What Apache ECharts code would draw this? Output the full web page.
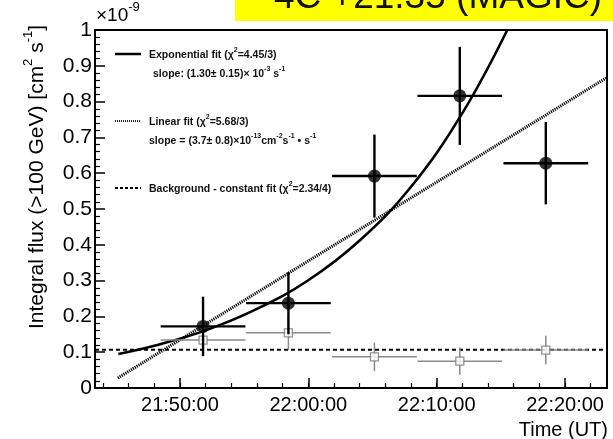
<!DOCTYPE html>
<html>
<head>
<meta charset="utf-8">
<script src="https://cdn.jsdelivr.net/npm/echarts@6/dist/echarts.min.js"></script>
<style>
  html, body { margin: 0; padding: 0; background: #fff; }
  #chart { width: 613px; height: 439px; }
</style>
</head>
<body>
<div id="chart"></div>
<script>
// time labels on the x axis
const timeTicks = ['21:50:00', '22:00:00', '22:10:00', '22:20:00'];

// MAGIC light curve, flux in units of 1e-9 cm^-2 s^-1
const binCentres = ['21:51:48', '21:58:27', '22:05:09', '22:11:48', '22:18:30'];
const binHalfSec = [198, 198, 198, 198, 198];
const flux = [0.172, 0.237, 0.592, 0.816, 0.628];
const fluxErr = [0.083, 0.087, 0.116, 0.137, 0.115];

// background (open squares)
const bgFlux = [0.134, 0.154, 0.087, 0.075, 0.106];
const bgErr = [0.04, 0.048, 0.04, 0.038, 0.04];
const bgLevel = 0.107;

// fitted curves
const expTime = ['21:45:12', '21:48:00', '21:52:00', '21:56:00', '22:00:00', '22:04:00', '22:08:00', '22:12:00', '22:15:30'];
const expFlux = [0.095, 0.118, 0.161, 0.221, 0.301, 0.412, 0.562, 0.768, 1.0];
const linTime = ['21:45:10', '22:23:12'];
const linFlux = [0.028, 0.866];

// minutes after 21:00
function toMin(s) {
  const p = s.split(':').map(Number);
  return (p[0] - 21) * 60 + p[1] + p[2] / 60;
}
function fmt(v) {
  const tot = Math.round(v * 60);
  const h = 21 + Math.floor(tot / 3600);
  const m = Math.floor((tot % 3600) / 60);
  const s = tot % 60;
  return h + ':' + String(m).padStart(2, '0') + ':' + String(s).padStart(2, '0');
}

const xMin = toMin('21:43:23');
const xMax = toMin('22:23:16');
const majorX = timeTicks.map(toMin);
const minorX = [];
for (let m = 44; m <= 83; m += 2) minorX.push(m);

const black = binCentres.map((t, i) => [toMin(t), flux[i], binHalfSec[i] / 60, fluxErr[i]]);
const grey = binCentres.map((t, i) => [toMin(t), bgFlux[i], binHalfSec[i] / 60, bgErr[i]]);

function errBars(color, width) {
  return function (params, api) {
    const x = api.value(0), y = api.value(1), dx = api.value(2), dy = api.value(3);
    const l = api.coord([x - dx, y]);
    const r = api.coord([x + dx, y]);
    const t = api.coord([x, y + dy]);
    const b = api.coord([x, y - dy]);
    const st = { stroke: color, lineWidth: width };
    return {
      type: 'group',
      children: [
        { type: 'line', shape: { x1: l[0], y1: l[1], x2: r[0], y2: r[1] }, style: st },
        { type: 'line', shape: { x1: t[0], y1: t[1], x2: b[0], y2: b[1] }, style: st }
      ]
    };
  };
}

const supRich = {
  n: { fontFamily: 'Liberation Sans', fontWeight: 'bold', fontSize: 10.5, lineHeight: 14, verticalAlign: 'bottom', fill: '#111' },
  s: { fontFamily: 'Liberation Sans', fontWeight: 'bold', fontSize: 7, verticalAlign: 'top', fill: '#111' }
};

const chart = echarts.init(document.getElementById('chart'));
chart.setOption({
  animation: false,
  grid: { left: 95, right: 6, top: 30, bottom: 51, show: true, borderColor: '#000', borderWidth: 2, backgroundColor: 'transparent' },
  xAxis: [
    {
      type: 'value', min: xMin, max: xMax,
      axisLine: { lineStyle: { color: '#000', width: 2 } },
      axisTick: { inside: true, length: 10, customValues: majorX, lineStyle: { color: '#000', width: 1.5 } },
      axisLabel: {
        customValues: majorX, formatter: fmt, margin: 7,
        fontFamily: 'Liberation Sans', fontSize: 20, color: '#000'
      },
      splitLine: { show: false }
    },
    {
      type: 'value', min: xMin, max: xMax, position: 'bottom',
      axisLine: { show: false },
      axisTick: { inside: true, length: 5, customValues: minorX, lineStyle: { color: '#000', width: 1.2 } },
      axisLabel: { show: false },
      splitLine: { show: false }
    }
  ],
  yAxis: {
    type: 'value', min: 0, max: 1, interval: 0.1,
    axisLine: { show: true, lineStyle: { color: '#000', width: 2 } },
    axisTick: { show: true, inside: true, length: 10, lineStyle: { color: '#000', width: 1.5 } },
    minorTick: { show: true, splitNumber: 5, length: 5, lineStyle: { color: '#000', width: 1.2 } },
    axisLabel: { margin: 3, fontFamily: 'Liberation Sans', fontSize: 21, color: '#000' },
    splitLine: { show: false }
  },
  series: [
    {
      type: 'line', data: [[xMin, bgLevel], [xMax, bgLevel]], symbol: 'none',
      lineStyle: { color: '#000', width: 2, type: [4, 3] }, z: 2
    },
    {
      type: 'line', data: linTime.map((t, i) => [toMin(t), linFlux[i]]), symbol: 'none',
      lineStyle: { color: '#000', width: 3, type: [1.2, 1] }, z: 2
    },
    {
      type: 'line', data: expTime.map((t, i) => [toMin(t), expFlux[i]]), symbol: 'none', smooth: 0.4,
      lineStyle: { color: '#000', width: 2.6 }, z: 3
    },
    {
      type: 'custom', data: grey, renderItem: errBars('#8a8a8a', 1.5), z: 4
    },
    {
      type: 'scatter', data: grey.map(d => [d[0], d[1]]), symbol: 'rect', symbolSize: 8,
      itemStyle: { color: '#fff', borderColor: '#777', borderWidth: 1.3 }, z: 5
    },
    {
      type: 'custom', data: black, renderItem: errBars('#000', 2.4), z: 6
    },
    {
      type: 'scatter', data: black.map(d => [d[0], d[1]]), symbol: 'circle', symbolSize: 13,
      itemStyle: { color: '#000' }, z: 7
    }
  ],
  graphic: [
    { type: 'rect', shape: { x: 235, y: 0, width: 378, height: 21 }, style: { fill: '#ffff00' }, z: 10 },
    {
      type: 'text', x: 274, y: -2, z: 11,
      style: { text: '4C +21.35 (MAGIC)', fontFamily: 'Liberation Sans', fontSize: 37, fill: '#111', verticalAlign: 'middle' }
    },
    {
      type: 'text', x: 96, y: 1, z: 11,
      style: {
        text: '{a|×10}{b|-9}',
        rich: {
          a: { fontFamily: 'Liberation Sans', fontSize: 19, lineHeight: 24, verticalAlign: 'bottom', fill: '#000' },
          b: { fontFamily: 'Liberation Sans', fontSize: 13, verticalAlign: 'top', fill: '#000' }
        }
      }
    },
    {
      type: 'text', x: 35, y: 177, rotation: Math.PI / 2, z: 11,
      style: {
        text: '{a|Integral flux (>100 GeV) [cm}{b|2}{a| s}{b|-1}{a|]}',
        align: 'center', verticalAlign: 'middle',
        rich: {
          a: { fontFamily: 'Liberation Sans', fontSize: 21, lineHeight: 26, verticalAlign: 'bottom', fill: '#000' },
          b: { fontFamily: 'Liberation Sans', fontSize: 13, verticalAlign: 'top', fill: '#000' }
        }
      }
    },
    {
      type: 'text', x: 608, y: 430, z: 11,
      style: { text: 'Time (UT)', fontFamily: 'Liberation Sans', fontSize: 20, fill: '#000', align: 'right', verticalAlign: 'middle' }
    },
    // legend
    { type: 'line', shape: { x1: 115, y1: 54, x2: 141, y2: 54 }, style: { stroke: '#000', lineWidth: 2.5 }, z: 11 },
    {
      type: 'text', x: 149, y: 54, z: 11,
      style: { text: '{n|Exponential fit (χ}{s|2}{n|=4.45/3)}', verticalAlign: 'middle', rich: supRich }
    },
    {
      type: 'text', x: 153, y: 73, z: 11,
      style: { text: '{n|slope: (1.30± 0.15)× 10}{s|-3}{n| s}{s|-1}', verticalAlign: 'middle', rich: supRich }
    },
    { type: 'line', shape: { x1: 115, y1: 121, x2: 141, y2: 121 }, style: { stroke: '#222', lineWidth: 2, lineDash: [1, 1] }, z: 11 },
    {
      type: 'text', x: 149, y: 121, z: 11,
      style: { text: '{n|Linear fit (χ}{s|2}{n|=5.68/3)}', verticalAlign: 'middle', rich: supRich }
    },
    {
      type: 'text', x: 149, y: 140, z: 11,
      style: { text: '{n|slope = (3.7± 0.8)×10}{s|-13}{n|cm}{s|-2}{n|s}{s|-1}{n| • s}{s|-1}', verticalAlign: 'middle', rich: supRich }
    },
    { type: 'line', shape: { x1: 115, y1: 188, x2: 141, y2: 188 }, style: { stroke: '#000', lineWidth: 2, lineDash: [3, 2] }, z: 11 },
    {
      type: 'text', x: 149, y: 188, z: 11,
      style: { text: '{n|Background - constant fit (χ}{s|2}{n|=2.34/4)}', verticalAlign: 'middle', rich: supRich }
    }
  ]
});
</script>
</body>
</html>
